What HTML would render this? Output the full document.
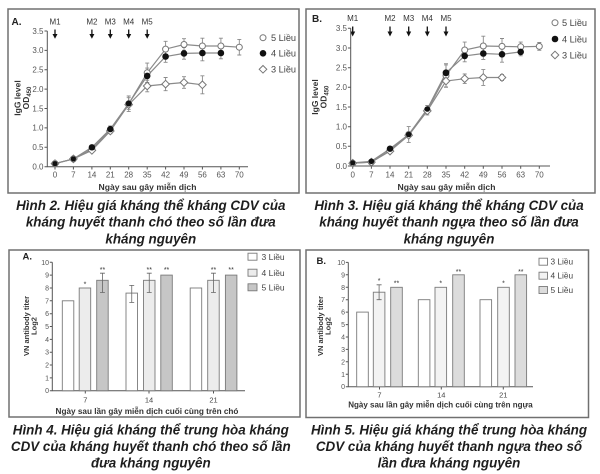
<!DOCTYPE html>
<html><head><meta charset="utf-8"><style>
html,body{margin:0;padding:0;background:#fff;}
svg{display:block;}
</style></head><body>
<svg width="600" height="474" viewBox="0 0 600 474" xmlns="http://www.w3.org/2000/svg" font-family="'Liberation Sans', Arial, sans-serif">
<rect width="600" height="474" fill="#fff"/>

<!-- ================= TOP A ================= -->
<rect x="8" y="9" width="291" height="184" fill="none" stroke="#707070" stroke-width="1.5"/>
<text x="11.5" y="25" font-size="10" font-weight="bold" fill="#222">A.</text>
<g font-size="8" fill="#333" text-anchor="middle">
<text x="55" y="24.5">M1</text><text x="91.9" y="24.5">M2</text><text x="110.3" y="24.5">M3</text><text x="128.7" y="24.5">M4</text><text x="147.2" y="24.5">M5</text>
</g>
<g stroke="#111" stroke-width="1.3">
<path d="M55 29.5V35M91.9 29.5V35M110.3 29.5V35M128.7 29.5V35M147.2 29.5V35"/>
</g>
<g fill="#111">
<path d="M52.5 34H57.5L55 38.7Z"/><path d="M89.4 34H94.4L91.9 38.7Z"/><path d="M107.8 34H112.8L110.3 38.7Z"/><path d="M126.2 34H131.2L128.7 38.7Z"/><path d="M144.7 34H149.7L147.2 38.7Z"/>
</g>
<g stroke="#555" stroke-width="1" fill="none">
<path d="M47.3 31V166.7H248"/>
<path d="M44.5 31H47.3M44.5 50.4H47.3M44.5 69.8H47.3M44.5 89.1H47.3M44.5 108.5H47.3M44.5 127.9H47.3M44.5 147.3H47.3M44.5 166.7H47.3"/>
<path d="M55 166.7V169.5M73.4 166.7V169.5M91.9 166.7V169.5M110.3 166.7V169.5M128.7 166.7V169.5M147.2 166.7V169.5M165.6 166.7V169.5M184 166.7V169.5M202.4 166.7V169.5M220.9 166.7V169.5M239.3 166.7V169.5"/>
</g>
<g font-size="8" fill="#555" text-anchor="end">
<text x="43.5" y="33.8">3.5</text><text x="43.5" y="53.2">3.0</text><text x="43.5" y="72.6">2.5</text><text x="43.5" y="91.9">2.0</text><text x="43.5" y="111.3">1.5</text><text x="43.5" y="130.7">1.0</text><text x="43.5" y="150.1">0.5</text><text x="43.5" y="169.5">0.0</text>
</g>
<g font-size="8" fill="#555" text-anchor="middle">
<text x="55" y="177.5">0</text><text x="73.4" y="177.5">7</text><text x="91.9" y="177.5">14</text><text x="110.3" y="177.5">21</text><text x="128.7" y="177.5">28</text><text x="147.2" y="177.5">35</text><text x="165.6" y="177.5">42</text><text x="184" y="177.5">49</text><text x="202.4" y="177.5">56</text><text x="220.9" y="177.5">63</text><text x="239.3" y="177.5">70</text>
</g>
<text x="147.5" y="190" font-size="8.6" font-weight="bold" fill="#333" text-anchor="middle">Ngày sau gây miễn dịch</text>
<text transform="rotate(-90 20.5 98)" x="20.5" y="98" font-size="8.5" font-weight="bold" fill="#333" text-anchor="middle">IgG level</text>
<text transform="rotate(-90 29 98)" x="29" y="98" font-size="8.5" font-weight="bold" fill="#333" text-anchor="middle">OD<tspan font-size="6" dy="2">450</tspan></text>
<g fill="none" stroke="#8a8a8a" stroke-width="1.2">
<polyline points="55,163.6 73.4,158.9 91.9,149.2 110.3,129.8 128.7,103.8 147.2,72.8 165.6,49.1 184,44.5 202.4,46 220.9,46 239.3,47.2"/>
<polyline points="55,163.6 73.4,158.9 91.9,147.3 110.3,129.1 128.7,103.5 147.2,75.9 165.6,56.5 184,53.4 202.4,53 220.9,53"/>
<polyline points="55,163.6 73.4,158.9 91.9,150.4 110.3,131 128.7,104.6 147.2,86 165.6,84.1 184,82.5 202.4,84.8"/>
</g>
<g fill="none" stroke="#8a8a8a" stroke-width="0.9">
<path d="M91.9 146.5V151.9M89.9 146.5H93.9M89.9 151.9H93.9M110.3 125.9V133.7M108.3 125.9H112.3M108.3 133.7H112.3M128.7 96V111.6M126.7 96H130.7M126.7 111.6H130.7M147.2 63.1V82.5M145.2 63.1H149.2M145.2 82.5H149.2M165.6 41.3V56.9M163.6 41.3H167.6M163.6 56.9H167.6M184 38.7V50.3M182 38.7H186M182 50.3H186M202.4 38.2V53.8M200.4 38.2H204.4M200.4 53.8H204.4M220.9 38.2V53.8M218.9 38.2H222.9M218.9 53.8H222.9M239.3 39.4V55M237.3 39.4H241.3M237.3 55H241.3"/>
<path d="M128.7 97.7V109.3M126.7 97.7H130.7M126.7 109.3H130.7M147.2 68.1V83.7M145.2 68.1H149.2M145.2 83.7H149.2M165.6 50.7V62.3M163.6 50.7H167.6M163.6 62.3H167.6M184 47.6V59.2M182 47.6H186M182 59.2H186M202.4 45.2V60.8M200.4 45.2H204.4M200.4 60.8H204.4M220.9 47.2V58.8M218.9 47.2H222.9M218.9 58.8H222.9"/>
<path d="M147.2 80.2V91.8M145.2 80.2H149.2M145.2 91.8H149.2M165.6 77.5V90.7M163.6 77.5H167.6M163.6 90.7H167.6M184 76.7V88.3M182 76.7H186M182 88.3H186M202.4 75.8V93.8M200.4 75.8H204.4M200.4 93.8H204.4"/>
</g>
<g fill="#fff" stroke="#777" stroke-width="1">
<circle cx="55" cy="163.6" r="3"/><circle cx="73.4" cy="158.9" r="3"/><circle cx="91.9" cy="149.2" r="3"/><circle cx="110.3" cy="129.8" r="3"/><circle cx="128.7" cy="103.8" r="3"/><circle cx="147.2" cy="72.8" r="3"/><circle cx="165.6" cy="49.1" r="3"/><circle cx="184" cy="44.5" r="3"/><circle cx="202.4" cy="46" r="3"/><circle cx="220.9" cy="46" r="3"/><circle cx="239.3" cy="47.2" r="3"/>
</g>
<g fill="#fff" stroke="#777" stroke-width="1">
<path d="M55 159.8L58.8 163.6L55 167.4L51.2 163.6Z"/><path d="M73.4 155.1L77.2 158.9L73.4 162.7L69.6 158.9Z"/><path d="M91.9 146.6L95.7 150.4L91.9 154.2L88.1 150.4Z"/><path d="M110.3 127.2L114.1 131L110.3 134.8L106.5 131Z"/><path d="M128.7 100.8L132.5 104.6L128.7 108.4L124.9 104.6Z"/><path d="M147.2 82.2L151 86L147.2 89.8L143.4 86Z"/><path d="M165.6 80.3L169.4 84.1L165.6 87.9L161.8 84.1Z"/><path d="M184 78.7L187.8 82.5L184 86.3L180.2 82.5Z"/><path d="M202.4 81L206.2 84.8L202.4 88.6L198.6 84.8Z"/>
</g>
<g fill="#111">
<circle cx="55" cy="163.6" r="2.6"/><circle cx="73.4" cy="158.9" r="2.6"/><circle cx="91.9" cy="147.3" r="3.2"/><circle cx="110.3" cy="129.1" r="3.2"/><circle cx="128.7" cy="103.5" r="3"/><circle cx="147.2" cy="75.9" r="3.3"/><circle cx="165.6" cy="56.5" r="3.3"/><circle cx="184" cy="53.4" r="3.3"/><circle cx="202.4" cy="53" r="3.3"/><circle cx="220.9" cy="53" r="3.3"/>
</g>
<circle cx="263" cy="37.7" r="3" fill="#fff" stroke="#777"/>
<circle cx="263" cy="53.3" r="3.3" fill="#111"/>
<path d="M263 65.5L266.8 69.3L263 73.1L259.2 69.3Z" fill="#fff" stroke="#777"/>
<g font-size="9.2" fill="#444">
<text x="271" y="41">5 Liều</text><text x="271" y="56.6">4 Liều</text><text x="271" y="72.6">3 Liều</text>
</g>

<!-- ================= TOP B ================= -->
<rect x="306" y="9" width="289" height="184" fill="none" stroke="#707070" stroke-width="1.5"/>
<text x="312" y="22" font-size="10" font-weight="bold" fill="#222">B.</text>
<g font-size="8" fill="#333" text-anchor="middle">
<text x="352.7" y="21">M1</text><text x="390" y="21">M2</text><text x="408.7" y="21">M3</text><text x="427.3" y="21">M4</text><text x="446" y="21">M5</text>
</g>
<g stroke="#111" stroke-width="1.3">
<path d="M352.7 26.5V32.5M390 26.5V32.5M408.7 26.5V32.5M427.3 26.5V32.5M446 26.5V32.5"/>
</g>
<g fill="#111">
<path d="M350.2 31.5H355.2L352.7 36.5Z"/><path d="M387.5 31.5H392.5L390 36.5Z"/><path d="M406.2 31.5H411.2L408.7 36.5Z"/><path d="M424.8 31.5H429.8L427.3 36.5Z"/><path d="M443.5 31.5H448.5L446 36.5Z"/>
</g>
<g stroke="#555" stroke-width="1" fill="none">
<path d="M350.7 28.3V166H550"/>
<path d="M347.9 28.3H350.7M347.9 48H350.7M347.9 67.7H350.7M347.9 87.3H350.7M347.9 107H350.7M347.9 126.7H350.7M347.9 146.3H350.7M347.9 166H350.7"/>
<path d="M352.7 166V168.8M371.4 166V168.8M390 166V168.8M408.7 166V168.8M427.3 166V168.8M446 166V168.8M464.7 166V168.8M483.3 166V168.8M502 166V168.8M520.7 166V168.8M539.3 166V168.8"/>
</g>
<g font-size="8" fill="#555" text-anchor="end">
<text x="347" y="31.1">3.5</text><text x="347" y="50.8">3.0</text><text x="347" y="70.5">2.5</text><text x="347" y="90.1">2.0</text><text x="347" y="109.8">1.5</text><text x="347" y="129.5">1.0</text><text x="347" y="149.1">0.5</text><text x="347" y="168.8">0.0</text>
</g>
<g font-size="8" fill="#555" text-anchor="middle">
<text x="352.7" y="177.5">0</text><text x="371.4" y="177.5">7</text><text x="390" y="177.5">14</text><text x="408.7" y="177.5">21</text><text x="427.3" y="177.5">28</text><text x="446" y="177.5">35</text><text x="464.7" y="177.5">42</text><text x="483.3" y="177.5">49</text><text x="502" y="177.5">56</text><text x="520.7" y="177.5">63</text><text x="539.3" y="177.5">70</text>
</g>
<text x="446.5" y="190" font-size="8.6" font-weight="bold" fill="#333" text-anchor="middle">Ngày sau gây miễn dịch</text>
<text transform="rotate(-90 318 97)" x="318" y="97" font-size="8.5" font-weight="bold" fill="#333" text-anchor="middle">IgG level</text>
<text transform="rotate(-90 326.5 97)" x="326.5" y="97" font-size="8.5" font-weight="bold" fill="#333" text-anchor="middle">OD<tspan font-size="6" dy="2">450</tspan></text>
<g fill="none" stroke="#8a8a8a" stroke-width="1.2">
<polyline points="352.7,163.2 371.4,162.1 390,150.3 408.7,134.5 427.3,110.2 446,75.5 464.7,50 483.3,46 502,46.4 520.7,46.8 539.3,46.4"/>
<polyline points="352.7,162.9 371.4,161.3 390,148.7 408.7,134.5 427.3,109 446,72.8 464.7,55.9 483.3,53.5 502,54.3 520.7,51.9"/>
<polyline points="352.7,163.2 371.4,162.1 390,151.1 408.7,135.3 427.3,110.9 446,81 464.7,78.7 483.3,77.5 502,77.5"/>
</g>
<g fill="none" stroke="#8a8a8a" stroke-width="0.9">
<path d="M408.7 126.6V142.4M406.7 126.6H410.7M406.7 142.4H410.7M427.3 105.5V114.9M425.3 105.5H429.3M425.3 114.9H429.3M446 63.7V87.3M444 63.7H448M444 87.3H448M464.7 42.1V57.9M462.7 42.1H466.7M462.7 57.9H466.7M483.3 36.2V55.8M481.3 36.2H485.3M481.3 55.8H485.3M502 38.5V54.3M500 38.5H504M500 54.3H504M520.7 42.1V51.5M518.7 42.1H522.7M518.7 51.5H522.7M539.3 42.5V50.3M537.3 42.5H541.3M537.3 50.3H541.3"/>
<path d="M446 64.9V80.7M444 64.9H448M444 80.7H448M464.7 50V61.8M462.7 50H466.7M462.7 61.8H466.7M483.3 47.6V59.4M481.3 47.6H485.3M481.3 59.4H485.3M502 46.4V62.2M500 46.4H504M500 62.2H504M520.7 48V55.8M518.7 48H522.7M518.7 55.8H522.7"/>
<path d="M446 75.1V86.9M444 75.1H448M444 86.9H448M464.7 74V83.4M462.7 74H466.7M462.7 83.4H466.7M483.3 69.6V85.4M481.3 69.6H485.3M481.3 85.4H485.3M502 74.4V80.6M500 74.4H504M500 80.6H504"/>
</g>
<g fill="#fff" stroke="#777" stroke-width="1">
<circle cx="352.7" cy="163.2" r="3"/><circle cx="371.4" cy="162.1" r="3"/><circle cx="390" cy="150.3" r="3"/><circle cx="408.7" cy="134.5" r="3"/><circle cx="427.3" cy="110.2" r="3"/><circle cx="446" cy="75.5" r="3"/><circle cx="464.7" cy="50" r="3"/><circle cx="483.3" cy="46" r="3"/><circle cx="502" cy="46.4" r="3"/><circle cx="520.7" cy="46.8" r="3"/><circle cx="539.3" cy="46.4" r="3"/>
</g>
<g fill="#fff" stroke="#777" stroke-width="1">
<path d="M352.7 159.4L356.5 163.2L352.7 167L348.9 163.2Z"/><path d="M371.4 158.3L375.2 162.1L371.4 165.9L367.6 162.1Z"/><path d="M390 147.3L393.8 151.1L390 154.9L386.2 151.1Z"/><path d="M408.7 131.5L412.5 135.3L408.7 139.1L404.9 135.3Z"/><path d="M427.3 107.1L431.1 110.9L427.3 114.7L423.5 110.9Z"/><path d="M446 77.2L449.8 81L446 84.8L442.2 81Z"/><path d="M464.7 74.9L468.5 78.7L464.7 82.5L460.9 78.7Z"/><path d="M483.3 73.7L487.1 77.5L483.3 81.3L479.5 77.5Z"/><path d="M502 73.7L505.8 77.5L502 81.3L498.2 77.5Z"/>
</g>
<g fill="#111">
<circle cx="352.7" cy="162.9" r="2.6"/><circle cx="371.4" cy="161.3" r="2.8"/><circle cx="390" cy="148.7" r="3.2"/><circle cx="408.7" cy="134.5" r="2.8"/><circle cx="427.3" cy="109" r="2.8"/><circle cx="446" cy="72.8" r="3.4"/><circle cx="464.7" cy="55.9" r="3.3"/><circle cx="483.3" cy="53.5" r="3.3"/><circle cx="502" cy="54.3" r="3.3"/><circle cx="520.7" cy="51.9" r="3.3"/>
</g>
<circle cx="555" cy="22.7" r="3" fill="#fff" stroke="#777"/>
<circle cx="555" cy="39" r="3.3" fill="#111"/>
<path d="M555 51.2L558.8 55L555 58.8L551.2 55Z" fill="#fff" stroke="#777"/>
<g font-size="9.2" fill="#444">
<text x="562" y="26">5 Liều</text><text x="562" y="42.3">4 Liều</text><text x="562" y="58.3">3 Liều</text>
</g>

<!-- ================= CAPTIONS TOP ================= -->
<g font-size="13.4" font-weight="bold" font-style="italic" fill="#1e1e1e" text-anchor="middle">
<text x="150.8" y="210">Hình 2. Hiệu giá kháng thể kháng CDV của</text>
<text x="150.8" y="226.7">kháng huyết thanh chó theo số lần đưa</text>
<text x="150.8" y="243.3">kháng nguyên</text>
<text x="449" y="210">Hình 3. Hiệu giá kháng thể kháng CDV của</text>
<text x="449" y="226.7">kháng huyết thanh ngựa theo số lần đưa</text>
<text x="449" y="243.3">kháng nguyên</text>
</g>

<!-- ================= BAR A ================= -->
<rect x="9" y="250" width="291" height="167" fill="none" stroke="#707070" stroke-width="1.5"/>
<text x="22.5" y="259.5" font-size="9.5" font-weight="bold" fill="#222">A.</text>
<g stroke="#555" stroke-width="1" fill="none">
<path d="M52.3 262.3V390.7H245"/>
<path d="M49.8 262.3H52.3M49.8 275.1H52.3M49.8 288H52.3M49.8 300.8H52.3M49.8 313.7H52.3M49.8 326.5H52.3M49.8 339.4H52.3M49.8 352.2H52.3M49.8 365H52.3M49.8 377.9H52.3M49.8 390.7H52.3"/>
<path d="M85.3 390.7V393.5M149 390.7V393.5M213.5 390.7V393.5"/>
</g>
<g font-size="7" fill="#555" text-anchor="end">
<text x="49" y="264.8">10</text><text x="49" y="277.6">9</text><text x="49" y="290.5">8</text><text x="49" y="303.3">7</text><text x="49" y="316.2">6</text><text x="49" y="329">5</text><text x="49" y="341.9">4</text><text x="49" y="354.7">3</text><text x="49" y="367.5">2</text><text x="49" y="380.4">1</text><text x="49" y="393.2">0</text>
</g>
<g font-size="7.5" fill="#444" text-anchor="middle">
<text x="85.3" y="402.5">7</text><text x="149" y="402.5">14</text><text x="213.5" y="402.5">21</text>
</g>
<text x="147" y="414" font-size="8.2" font-weight="bold" fill="#333" text-anchor="middle">Ngày sau lần gây miễn dịch cuối cùng trên chó</text>
<text transform="rotate(-90 28.8 326)" x="28.8" y="326" font-size="7.5" font-weight="bold" fill="#333" text-anchor="middle">VN antibody titer</text>
<text transform="rotate(-90 36.3 326)" x="36.3" y="326" font-size="7.5" font-weight="bold" fill="#333" text-anchor="middle">Log2</text>
<g stroke="#7a7a7a" stroke-width="0.9">
<rect x="62.3" y="300.8" width="11.5" height="89.9" fill="#fff"/>
<rect x="79.2" y="288" width="11.5" height="102.7" fill="#ececec"/>
<rect x="96.7" y="280.3" width="11.5" height="110.4" fill="#c6c6c6"/>
<rect x="126" y="293.1" width="11.5" height="97.6" fill="#fff"/>
<rect x="143.5" y="280.3" width="11.5" height="110.4" fill="#ececec"/>
<rect x="160.8" y="275.1" width="11.5" height="115.6" fill="#c6c6c6"/>
<rect x="190.2" y="288" width="11.5" height="102.7" fill="#fff"/>
<rect x="207.7" y="280.3" width="11.5" height="110.4" fill="#ececec"/>
<rect x="225.4" y="275.1" width="11.5" height="115.6" fill="#c6c6c6"/>
</g>
<g stroke="#666" stroke-width="0.8" fill="none">
<path d="M102.45 273.2V292.5M100 273.2H104.9M100 292.5H104.9"/>
<path d="M131.75 285.4V302.5M129.3 285.4H134.2M129.3 302.5H134.2"/>
<path d="M149.25 273.2V292.5M146.8 273.2H151.7M146.8 292.5H151.7"/>
<path d="M213.45 273.2V292.5M211 273.2H215.9M211 292.5H215.9"/>
</g>
<g font-size="7" fill="#333" text-anchor="middle">
<text x="84.95" y="286.6">*</text><text x="102.45" y="272.2">**</text><text x="149.25" y="272.2">**</text><text x="166.55" y="272.2">**</text><text x="213.45" y="272.2">**</text><text x="231.15" y="272.2">**</text>
</g>
<g stroke="#7a7a7a" stroke-width="0.9">
<rect x="248" y="253.2" width="9" height="7" fill="#fff"/>
<rect x="248" y="269.2" width="9" height="7" fill="#ececec"/>
<rect x="248" y="283.8" width="9" height="7" fill="#c6c6c6"/>
</g>
<g font-size="8.5" fill="#444">
<text x="261.5" y="259.8">3 Liều</text><text x="261.5" y="275.8">4 Liều</text><text x="261.5" y="290.4">5 Liều</text>
</g>

<!-- ================= BAR B ================= -->
<rect x="306" y="250" width="282.5" height="167.5" fill="none" stroke="#707070" stroke-width="1.5"/>
<text x="316.5" y="264" font-size="9.5" font-weight="bold" fill="#222">B.</text>
<g stroke="#555" stroke-width="1" fill="none">
<path d="M348.3 262.4V386.7H533"/>
<path d="M345.8 262.4H348.3M345.8 274.8H348.3M345.8 287.3H348.3M345.8 299.7H348.3M345.8 312.1H348.3M345.8 324.6H348.3M345.8 337H348.3M345.8 349.4H348.3M345.8 361.8H348.3M345.8 374.3H348.3M345.8 386.7H348.3"/>
<path d="M379.5 386.7V389.5M441.3 386.7V389.5M503.3 386.7V389.5"/>
</g>
<g font-size="7" fill="#555" text-anchor="end">
<text x="345" y="264.9">10</text><text x="345" y="277.3">9</text><text x="345" y="289.8">8</text><text x="345" y="302.2">7</text><text x="345" y="314.6">6</text><text x="345" y="327.1">5</text><text x="345" y="339.5">4</text><text x="345" y="351.9">3</text><text x="345" y="364.3">2</text><text x="345" y="376.8">1</text><text x="345" y="389.2">0</text>
</g>
<g font-size="7.5" fill="#444" text-anchor="middle">
<text x="379.5" y="397.5">7</text><text x="441.3" y="397.5">14</text><text x="503.3" y="397.5">21</text>
</g>
<text x="440.5" y="407.5" font-size="8" font-weight="bold" fill="#333" text-anchor="middle">Ngày sau lần gây miễn dịch cuối cùng trên ngựa</text>
<text transform="rotate(-90 322.8 326)" x="322.8" y="326" font-size="7.5" font-weight="bold" fill="#333" text-anchor="middle">VN antibody titer</text>
<text transform="rotate(-90 330.3 326)" x="330.3" y="326" font-size="7.5" font-weight="bold" fill="#333" text-anchor="middle">Log2</text>
<g stroke="#7a7a7a" stroke-width="0.9">
<rect x="356.7" y="312.1" width="11.6" height="74.6" fill="#fff"/>
<rect x="373.3" y="292.2" width="11.6" height="94.5" fill="#f3f3f3"/>
<rect x="390.7" y="287.3" width="11.6" height="99.4" fill="#dcdcdc"/>
<rect x="418.3" y="299.7" width="11.6" height="87" fill="#fff"/>
<rect x="435" y="287.3" width="11.6" height="99.4" fill="#f3f3f3"/>
<rect x="452.7" y="274.8" width="11.6" height="111.9" fill="#dcdcdc"/>
<rect x="480" y="299.7" width="11.6" height="87" fill="#fff"/>
<rect x="497.7" y="287.3" width="11.6" height="99.4" fill="#f3f3f3"/>
<rect x="515" y="274.8" width="11.6" height="111.9" fill="#dcdcdc"/>
</g>
<g stroke="#666" stroke-width="0.8" fill="none">
<path d="M379.1 284.8V299.7M376.6 284.8H381.6M376.6 299.7H381.6"/>
</g>
<g font-size="7" fill="#333" text-anchor="middle">
<text x="379.1" y="283">*</text><text x="396.5" y="285.6">**</text><text x="440.8" y="285.6">*</text><text x="458.5" y="274">**</text><text x="503.5" y="285.6">*</text><text x="520.8" y="274">**</text>
</g>
<g stroke="#7a7a7a" stroke-width="0.9">
<rect x="539" y="258.2" width="8.5" height="7" fill="#fff"/>
<rect x="539" y="272.2" width="8.5" height="7" fill="#f3f3f3"/>
<rect x="539" y="286.5" width="8.5" height="7" fill="#dcdcdc"/>
</g>
<g font-size="8.3" fill="#444">
<text x="550.5" y="264.7">3 Liều</text><text x="550.5" y="278.7">4 Liều</text><text x="550.5" y="293">5 Liều</text>
</g>

<!-- ================= CAPTIONS BOTTOM ================= -->
<g font-size="13.4" font-weight="bold" font-style="italic" fill="#1e1e1e" text-anchor="middle">
<text x="150.8" y="434.3">Hình 4. Hiệu giá kháng thể trung hòa kháng</text>
<text x="150.8" y="451">CDV của kháng huyết thanh chó theo số lần</text>
<text x="150.8" y="467.7">đưa kháng nguyên</text>
<text x="449" y="434.3">Hình 5. Hiệu giá kháng thể trung hòa kháng</text>
<text x="449" y="451">CDV của kháng huyết thanh ngựa theo số</text>
<text x="449" y="467.7">lần đưa kháng nguyên</text>
</g>
</svg>
</body></html>
